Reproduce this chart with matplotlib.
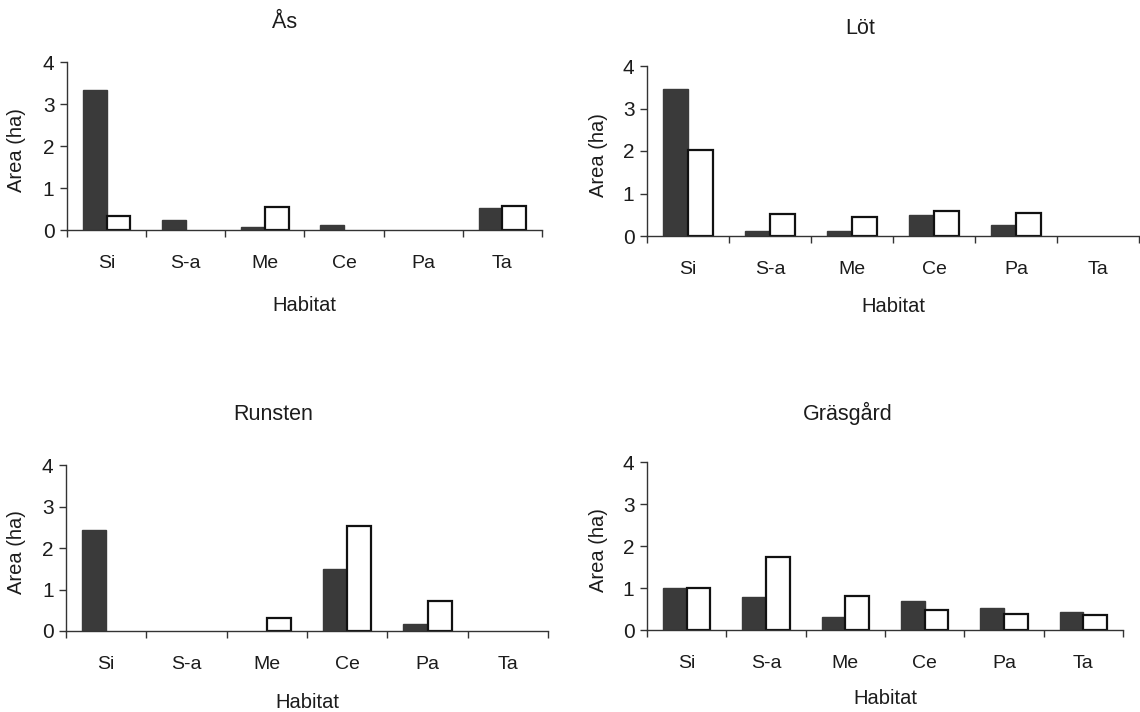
import matplotlib
matplotlib.use("Agg")
import matplotlib.pyplot as plt
import numpy as np

plt.rcParams['font.family'] = ['Liberation Sans', 'DejaVu Sans']

categories = ["Si", "S-a", "Me", "Ce", "Pa", "Ta"]
yticks = [0, 1, 2, 3, 4]

titles = ["Ås", "Löt", "Runsten", "Gräsgård"]

as_dark = [3.34, 0.25, 0.06, 0.11, 0.0, 0.53]
as_white = [0.34, 0.0, 0.54, 0.0, 0.0, 0.58]

lot_dark = [3.45, 0.12, 0.12, 0.49, 0.27, 0.0]
lot_white = [2.02, 0.52, 0.44, 0.58, 0.54, 0.0]

run_dark = [2.44, 0.0, 0.0, 1.50, 0.18, 0.0]
run_white = [0.0, 0.0, 0.31, 2.52, 0.73, 0.0]

gra_dark = [1.01, 0.78, 0.32, 0.70, 0.52, 0.44]
gra_white = [1.00, 1.75, 0.82, 0.47, 0.39, 0.36]

W, H = 1140, 712
fig = plt.figure(figsize=(W / 100, H / 100), dpi=100)
fig.patch.set_facecolor("white")

TXT = "#1c1c1c"
DARK = "#3a3a3a"

panels = [
    dict(box=(67, 542, 62, 230), title=(285, 23), xlab_y=305, ylab_x=17,
         dark=as_dark, white=as_white, name=titles[0]),
    dict(box=(647, 1139, 66, 236), title=(860, 28), xlab_y=307, ylab_x=598,
         dark=lot_dark, white=lot_white, name=titles[1]),
    dict(box=(66, 548, 465, 631), title=(273, 415), xlab_y=703, ylab_x=17,
         dark=run_dark, white=run_white, name=titles[2]),
    dict(box=(647, 1123, 462, 630), title=(848, 413), xlab_y=699, ylab_x=598,
         dark=gra_dark, white=gra_white, name=titles[3]),
]

x = np.arange(len(categories))
bw = 0.3

for p in panels:
    x0, x1, yt, yb = p["box"]
    ax = fig.add_axes([x0 / W, 1 - yb / H, (x1 - x0) / W, (yb - yt) / H])
    ax.bar(x - bw / 2, p["dark"], width=bw, color=DARK, edgecolor=DARK,
           linewidth=[1.0 if v > 0 else 0 for v in p["dark"]], zorder=2)
    ax.bar(x + bw / 2, p["white"], width=bw, color="white", edgecolor="#111111",
           linewidth=[1.6 if v > 0 else 0 for v in p["white"]], zorder=2)
    ax.set_xlim(-0.5, len(categories) - 0.5)
    ax.set_ylim(0, 4)
    ax.set_yticks(yticks)
    ax.set_yticklabels([str(v) for v in yticks], fontsize=15, color=TXT)
    ax.set_xticks(np.arange(len(categories) + 1) - 0.5)
    ax.set_xticklabels([])
    ax.set_xticks(x, minor=True)
    ax.set_xticklabels(categories, minor=True, fontsize=14, color=TXT)
    ax.tick_params(axis="x", which="major", direction="out", length=5,
                   width=1.0, color="#333333")
    ax.tick_params(axis="x", which="minor", length=0, pad=18)
    ax.tick_params(axis="y", direction="out", length=5, width=1.0,
                   color="#333333", pad=4)
    for s in ["top", "right"]:
        ax.spines[s].set_visible(False)
    for s in ["left", "bottom"]:
        ax.spines[s].set_linewidth(1.0)
        ax.spines[s].set_color("#333333")
    ax.set_facecolor("none")

    cx = (x0 + x1) / 2
    fig.text(cx / W, 1 - p["xlab_y"] / H, "Habitat", ha="center", va="center",
             fontsize=14.5, color=TXT)
    fig.text(p["ylab_x"] / W, 1 - ((yt + yb) / 2 + 4) / H, "Area (ha)",
             ha="center", va="center", rotation=90, fontsize=14.5, color=TXT)
    tx, ty = p["title"]
    fig.text(tx / W, 1 - ty / H, p["name"], ha="center", va="center",
             fontsize=15.5, color=TXT)

fig.savefig("out.png", dpi=100, facecolor="white")
